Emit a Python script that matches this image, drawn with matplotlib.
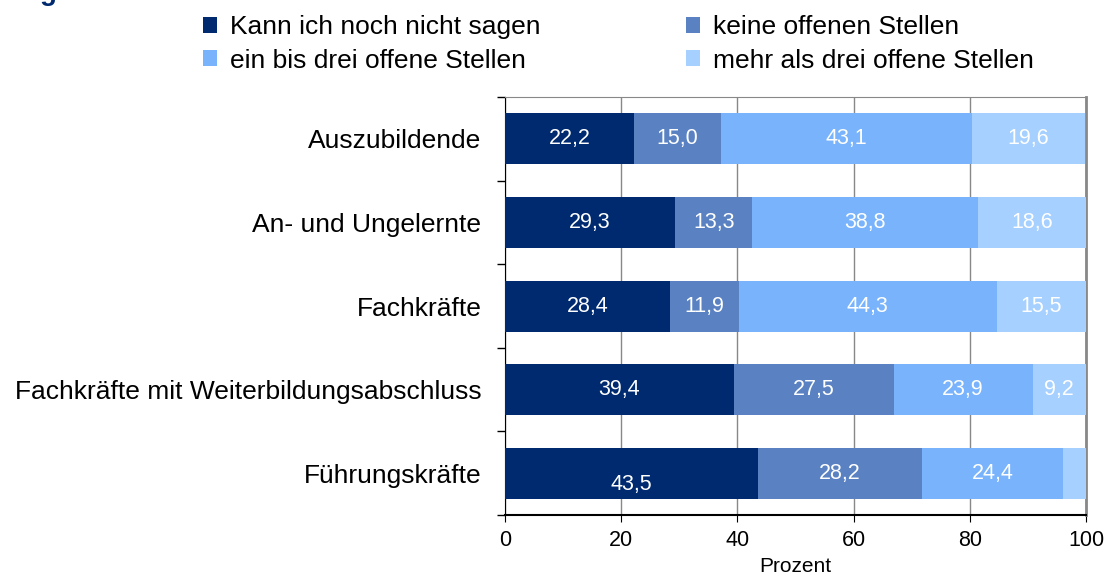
import numpy as np
import matplotlib
matplotlib.use("Agg")
import matplotlib.pyplot as plt

plt.rcParams['font.family'] = ['Liberation Sans', 'DejaVu Sans']

# Daten
kategorien = ["Auszubildende", "An- und Ungelernte", "Fachkräfte",
              "Fachkräfte mit Weiterbildungsabschluss", "Führungskräfte"]
serien = ["Kann ich noch nicht sagen", "keine offenen Stellen",
          "ein bis drei offene Stellen", "mehr als drei offene Stellen"]
kann_nicht = [22.2, 29.3, 28.4, 39.4, 43.5]
keine = [15.0, 13.3, 11.9, 27.5, 28.2]
eins_bis_drei = [43.1, 38.8, 44.3, 23.9, 24.4]
mehr_als_drei = [19.6, 18.6, 15.5, 9.2, 3.9]
farben = ["#002A6F", "#5A82C2", "#78B3FC", "#A6D0FF"]

werte = [kann_nicht, keine, eins_bis_drei, mehr_als_drei]

fig = plt.figure(figsize=(11.12, 5.75), dpi=100)
ax = fig.add_axes([0.4541, 0.1043, 0.5225, 0.727])

y = np.arange(len(kategorien))
links = np.zeros(len(kategorien))
handles = []
for name, w, c in zip(serien, werte, farben):
    w = np.array(w)
    b = ax.barh(y, w, left=links, height=0.61, color=c, label=name, zorder=3)
    handles.append(b)
    for i, (l, v) in enumerate(zip(links, w)):
        if v >= 5:
            dy = 0.14 if (i == 4 and name == serien[0]) else 0
            ax.text(l + v / 2, y[i] + dy, f"{v:.1f}".replace(".", ","),
                    ha="center", va="center", color="white", fontsize=15.5, zorder=4)
    links += w

ax.set_xlim(0, 100)
ax.set_ylim(len(kategorien) - 0.5, -0.5)
ax.set_xticks([0, 20, 40, 60, 80, 100])
ax.tick_params(axis="x", labelsize=15.5, length=5, pad=6)
ax.set_yticks(y)
ax.set_yticklabels(kategorien, fontsize=19)
ax.tick_params(axis="y", length=0, pad=17)
ax.set_yticks(np.arange(-0.5, len(kategorien)), minor=True)
ax.tick_params(axis="y", which="minor", length=6, width=1)
ax.set_xlabel("Prozent", fontsize=15, labelpad=4)

ax.grid(axis="x", color="#888888", linewidth=1, zorder=0)
ax.spines["left"].set_color("black")
ax.spines["bottom"].set_color("black")
ax.spines["bottom"].set_linewidth(1.5)
ax.spines["top"].set_color("#888888")
ax.spines["right"].set_color("#888888")
ax.spines["right"].set_linewidth(2)

# Legende zeilenweise: Reihenfolge fuer ncol=2 umsortieren
reihenfolge = [0, 2, 1, 3]
fig.legend([handles[k] for k in reihenfolge], [serien[k] for k in reihenfolge],
           loc="upper left", bbox_to_anchor=(0.161, 1.015), ncol=2, frameon=False,
           fontsize=19, handlelength=0.53, handleheight=0.53, handletextpad=0.5,
           columnspacing=5.5, labelspacing=0.36)

# abgeschnittener Titel
fig.text(0.036, 1.012, "g", color="#002A6F", fontsize=20, fontweight="bold",
         ha="left", va="center")

fig.savefig("out.png", dpi=100)
